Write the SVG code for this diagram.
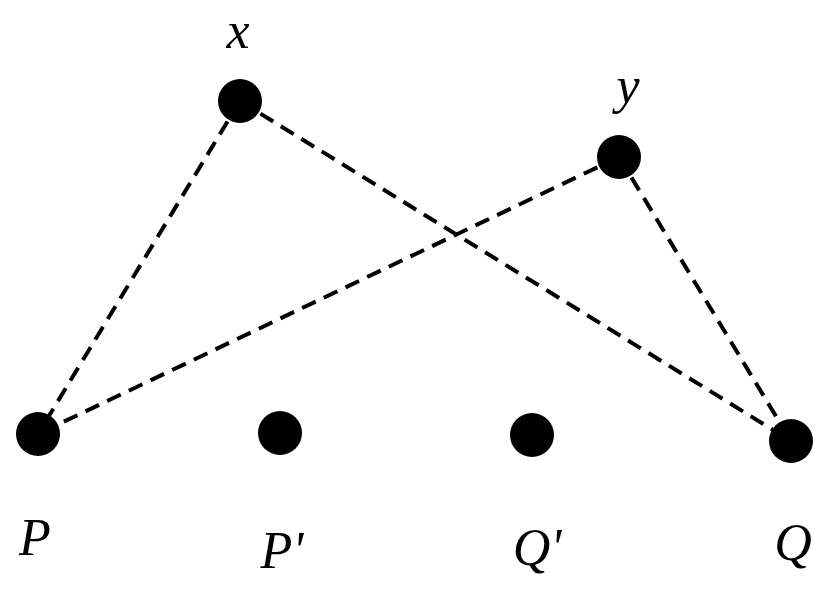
<svg xmlns="http://www.w3.org/2000/svg" width="829" height="591" viewBox="0 0 829 591">
<style>
.n{fill:#000}
.e{stroke:#000;stroke-width:4;stroke-dasharray:15,9;fill:none}
.t{font-family:"Liberation Serif",serif;font-style:italic;font-size:52px;fill:#000;text-anchor:middle}
</style>
<rect width="829" height="591" fill="#fff"/>
<g id="connectors">
<line class="e" x1="240" y1="101" x2="38" y2="434"/>
<line class="e" x1="240" y1="101" x2="791" y2="441"/>
<line class="e" x1="619" y1="157" x2="38" y2="434"/>
<line class="e" x1="619" y1="157" x2="791" y2="441"/>
</g>
<g id="x"><circle class="n" cx="240" cy="101" r="22"/><text class="t" x="238" y="48">x</text></g>
<g id="y"><circle class="n" cx="619" cy="157" r="22"/><text class="t" x="628" y="103">y</text></g>
<g id="P"><circle class="n" cx="38" cy="434" r="22"/><text class="t" x="35" y="555">P</text></g>
<g id="P2"><circle class="n" cx="280" cy="433" r="22"/><text class="t" x="282" y="568">P'</text></g>
<g id="Q2"><circle class="n" cx="532" cy="435" r="22"/><text class="t" x="537" y="565">Q'</text></g>
<g id="Q"><circle class="n" cx="791" cy="441" r="22"/><text class="t" x="793" y="560">Q</text></g>
</svg>
